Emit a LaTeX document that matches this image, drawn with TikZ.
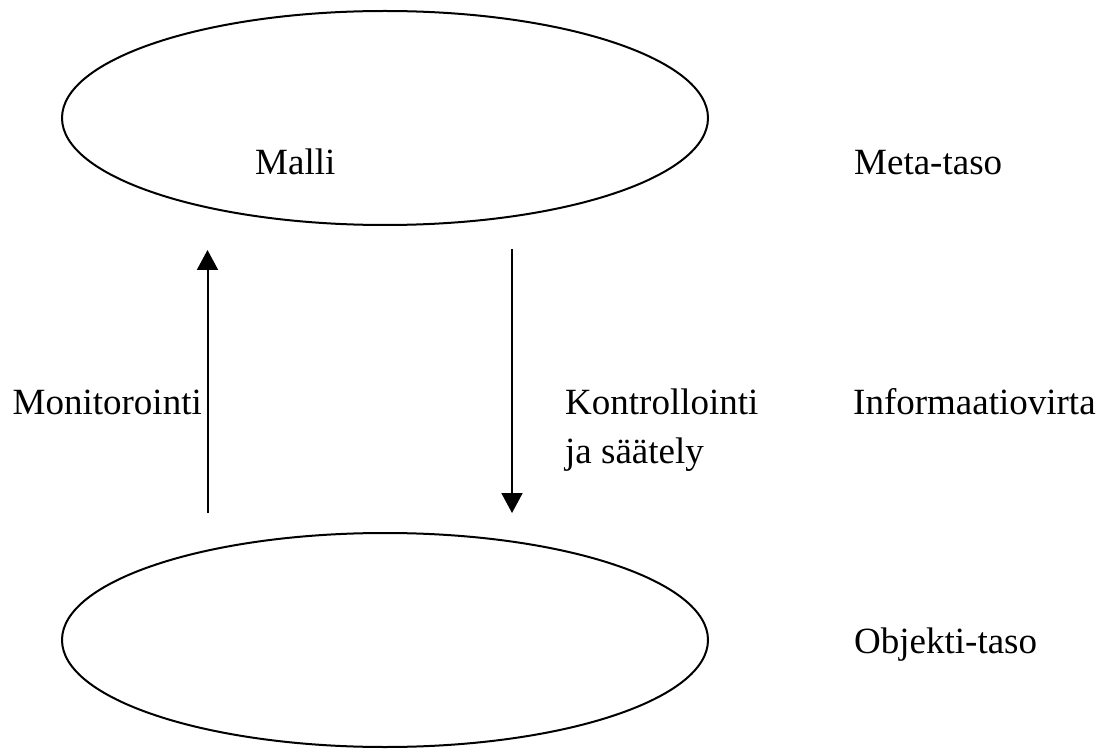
\documentclass[tikz,border=0pt]{standalone}
\usepackage{fontspec}
\setmainfont{Liberation Serif}
\usetikzlibrary{shapes.geometric, arrows.meta, positioning}

\tikzset{
    level/.style={draw, ellipse, line width=2pt, minimum width=646pt, minimum height=214pt, inner sep=0pt},
    lbl/.style={inner sep=0pt, anchor=base west, font=\fontsize{37}{49}\selectfont},
    flow/.style={line width=2pt, -{Triangle[length=20pt, width=21pt]}}
}

\begin{document}
\begin{tikzpicture}[x=1pt, y=-1pt]
    \useasboundingbox (0,0) rectangle (1103,751);

    % Levels
    \node[level] (meta) at (385,118) {};
    \node[level] (objekti) at (385,640) {};
    \node[lbl] (malli) at (255,175) {Malli};

    % Information flow
    \coordinate (monbot) at (207.5,513);
    \coordinate (montop) at (207.5,250);
    \coordinate (kontop) at (512,249);
    \coordinate (konbot) at (512,513);
    \draw[flow] (monbot) -- (montop);
    \draw[flow] (kontop) -- (konbot);

    \node[lbl, anchor=base east] (monitor) at (202,414) {Monitorointi};
    \node[lbl] (kontrol) at (565,414) {Kontrollointi};
    \node[lbl] (saately) at (565,463) {ja säätely};

    % Level names
    \node[lbl] (metataso) at (854,175) {Meta-taso};
    \node[lbl] (infovirta) at (853,414) {Informaatiovirta};
    \node[lbl] (objtaso) at (854,653) {Objekti-taso};
\end{tikzpicture}
\end{document}
